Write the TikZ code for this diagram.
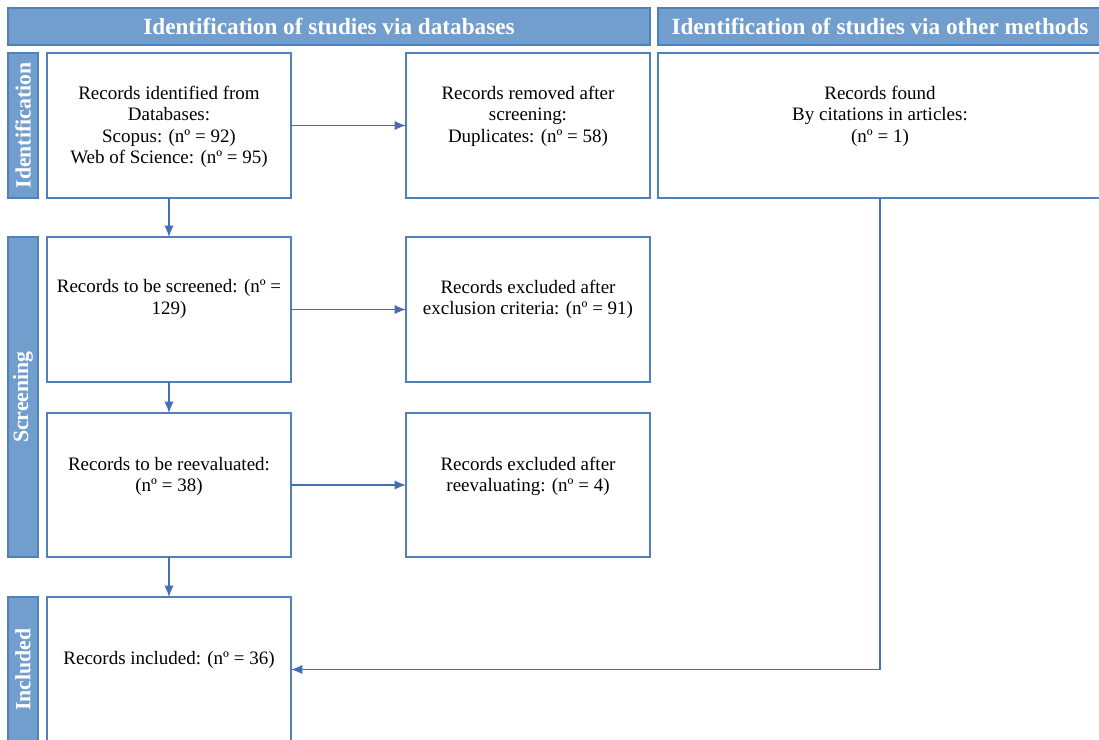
\documentclass[tikz,border=0pt]{standalone}
\usepackage{fontspec}
\setmainfont{Liberation Serif}
\usetikzlibrary{positioning,arrows.meta}
\definecolor{hdrblue}{RGB}{114,158,206}
\definecolor{edgeblue}{RGB}{79,129,189}
\definecolor{arrowblue}{RGB}{65,112,180}
\tikzset{%
	>={Latex[length=8pt,width=6.5pt]},
	outer sep=0pt,%
	box/.style={draw=edgeblue,line width=1pt,fill=white,
		minimum width=6.1cm,minimum height=3.625cm,inner sep=0pt},%
	boxtext/.style={align=center,inner sep=0pt,
		font=\fontsize{13.5}{15.3}\selectfont},%
	header/.style={draw=edgeblue,line width=1pt,fill=hdrblue,text=white,
		minimum height=0.925cm,inner sep=0pt,
		font=\fontsize{16.5}{18}\selectfont\bfseries},%
	phase/.style={draw=edgeblue,line width=1pt,fill=hdrblue,text=white,
		minimum height=0.75cm,inner sep=0pt,rotate=90,
		font=\fontsize{15.5}{17}\selectfont\bfseries},%
	flow/.style={->,arrowblue,line width=1pt}
}
\begin{document}
\begin{tikzpicture}[x=0.025cm,y=-0.025cm]
	%% frame of the page
	\useasboundingbox (0,0) rectangle (1099,739);
	\clip (0,0) rectangle (1099,739);
	
	%% headers
	\node[header,minimum width=16.05cm] (hdrdb) at (329,26.5) {Identification of studies via databases};
	\node[header,minimum width=11.1cm] (hdrother) at (880,26.5) {Identification of studies via other methods};
	
	%% phase bars on the left
	\node[phase,minimum width=3.625cm] (phIdent) at (23,125.5) {Identification};
	\node[phase,minimum width=8cm] (phScreen) at (23,397) {Screening};
	\node[phase,minimum width=3.625cm] (phIncl) at (23,669.5) {Included};
	
	%% boxes
	\node[box] (identified) at (169,125.5) {};
	\node[box] (removed) at (528,125.5) {};
	\node[box,minimum width=11.1cm] (found) at (880,125.5) {};
	\node[box] (screened) at (169,309.5) {};
	\node[box] (excluded) at (528,309.5) {};
	\node[box,minimum height=3.6cm] (reeval) at (169,485) {};
	\node[box,minimum height=3.6cm] (exclreeval) at (528,485) {};
	\node[box] (included) at (169,669.5) {};
	
	%% texts of the boxes
	\node[boxtext,below=0.82cm of identified.north] (tIdentified) {Records identified from\\Databases:\\Scopus: (nº = 92)\\Web of Science: (nº = 95)};
	\node[boxtext,below=0.82cm of removed.north] (tRemoved) {Records removed after\\screening:\\Duplicates: (nº = 58)};
	\node[boxtext,below=0.82cm of found.north] (tFound) {Records found\\By citations in articles:\\(nº = 1)};
	\node[boxtext,below=1.07cm of screened.north] (tScreened) {Records to be screened: (nº =\\129)};
	\node[boxtext,below=1.07cm of excluded.north] (tExcluded) {Records excluded after\\exclusion criteria: (nº = 91)};
	\node[boxtext,below=1.1cm of reeval.north] (tReeval) {Records to be reevaluated:\\(nº = 38)};
	\node[boxtext,below=1.1cm of exclreeval.north] (tExclreeval) {Records excluded after\\reevaluating: (nº = 4)};
	\node[boxtext,below=1.35cm of included.north] (tIncluded) {Records included: (nº = 36)};
	
	%% connectors
	\draw[flow] (identified) -- (removed);
	\draw[flow] (identified) -- (screened);
	\draw[flow] (screened) -- (excluded);
	\draw[flow] (screened) -- (reeval);
	\draw[flow] (reeval) -- (exclreeval);
	\draw[flow] (reeval) -- (included);
	\draw[flow] (found.south) |- (included.east);
\end{tikzpicture}
\end{document}
